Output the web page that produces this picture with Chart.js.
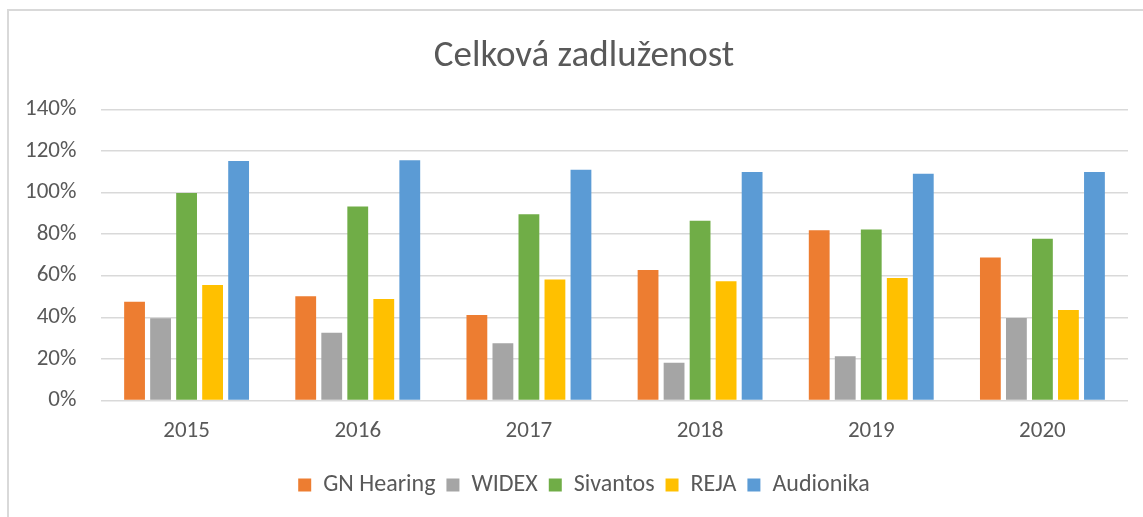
<!DOCTYPE html>
<html>
<head>
<meta charset="utf-8">
<script src="https://cdn.jsdelivr.net/npm/chart.js@4.4.1/dist/chart.umd.min.js"></script>
<style>
  html, body { margin: 0; padding: 0; background: #fff; overflow: hidden; }
  #frame {
    position: absolute; left: 7px; top: 9px; width: 1150px; height: 520px;
    border-left: 2px solid #d9d9d9; border-top: 2px solid #d9d9d9;
  }
  #wrap { position: absolute; left: 0; top: 0; width: 1143px; height: 517px; }
</style>
</head>
<body>
<div id="frame"></div>
<div id="wrap"><canvas id="debtChart"></canvas></div>
<script>
// Years on the x axis
const years = ['2015', '2016', '2017', '2018', '2019', '2020'];

// Total indebtedness per company (%)
const gnHearing = [47.5, 50.1, 41.1, 62.7, 81.8, 68.8];
const widex = [39.5, 32.5, 27.5, 18.1, 21.3, 39.7];
const sivantos = [99.8, 93.3, 89.6, 86.4, 82.2, 77.8];
const reja = [55.5, 48.8, 58.2, 57.3, 58.9, 43.5];
const audionika = [115.2, 115.5, 111.0, 109.9, 109.0, 109.9];

const seriesNames = ['GN Hearing', 'WIDEX', 'Sivantos', 'REJA', 'Audionika'];
const seriesColors = ['#ED7D31', '#A5A5A5', '#70AD47', '#FFC000', '#5B9BD5'];
const seriesData = [gnHearing, widex, sivantos, reja, audionika];

const font = 'Carlito, Calibri, "Open Sans", sans-serif';
const ctx = document.getElementById('debtChart').getContext('2d');

new Chart(ctx, {
    type: 'bar',
    data: {
        labels: years,
        datasets: seriesNames.map((name, i) => ({
            label: name,
            data: seriesData[i],
            backgroundColor: seriesColors[i],
            borderWidth: 0,
            categoryPercentage: 0.76,
            barPercentage: 0.8
        }))
    },
    options: {
        responsive: true,
        maintainAspectRatio: false,
        animation: false,
        layout: {
            // wider left padding so title and legend sit centred on the frame
            padding: { left: 40, right: 15, top: 35, bottom: 10 }
        },
        plugins: {
            title: {
                display: true,
                text: 'Celková zadluženost',
                color: '#595959',
                font: { family: font, size: 37, weight: 'normal' },
                padding: { top: 0, bottom: 30 }
            },
            legend: {
                position: 'bottom',
                labels: {
                    color: '#595959',
                    boxWidth: 13,
                    boxHeight: 13,
                    padding: 11,
                    font: { family: font, size: 24 }
                }
            },
            tooltip: { enabled: false }
        },
        scales: {
            y: {
                min: 0,
                max: 140,
                border: { display: false },
                grid: { color: '#d9d9d9', lineWidth: 1.5, drawTicks: false },
                ticks: {
                    stepSize: 20,
                    color: '#595959',
                    // mirrored labels pulled back left of the plot, right-aligned
                    mirror: true,
                    crossAlign: 'far',
                    padding: -76,
                    font: { family: font, size: 23 },
                    callback: function(value) {
                        return value + '%';
                    }
                },
                afterFit: function(scale) {
                    scale.width = 61;
                }
            },
            x: {
                border: { display: false },
                grid: { display: false, drawTicks: false },
                ticks: {
                    color: '#595959',
                    padding: 17,
                    font: { family: font, size: 23 }
                }
            }
        }
    }
});
</script>
</body>
</html>
